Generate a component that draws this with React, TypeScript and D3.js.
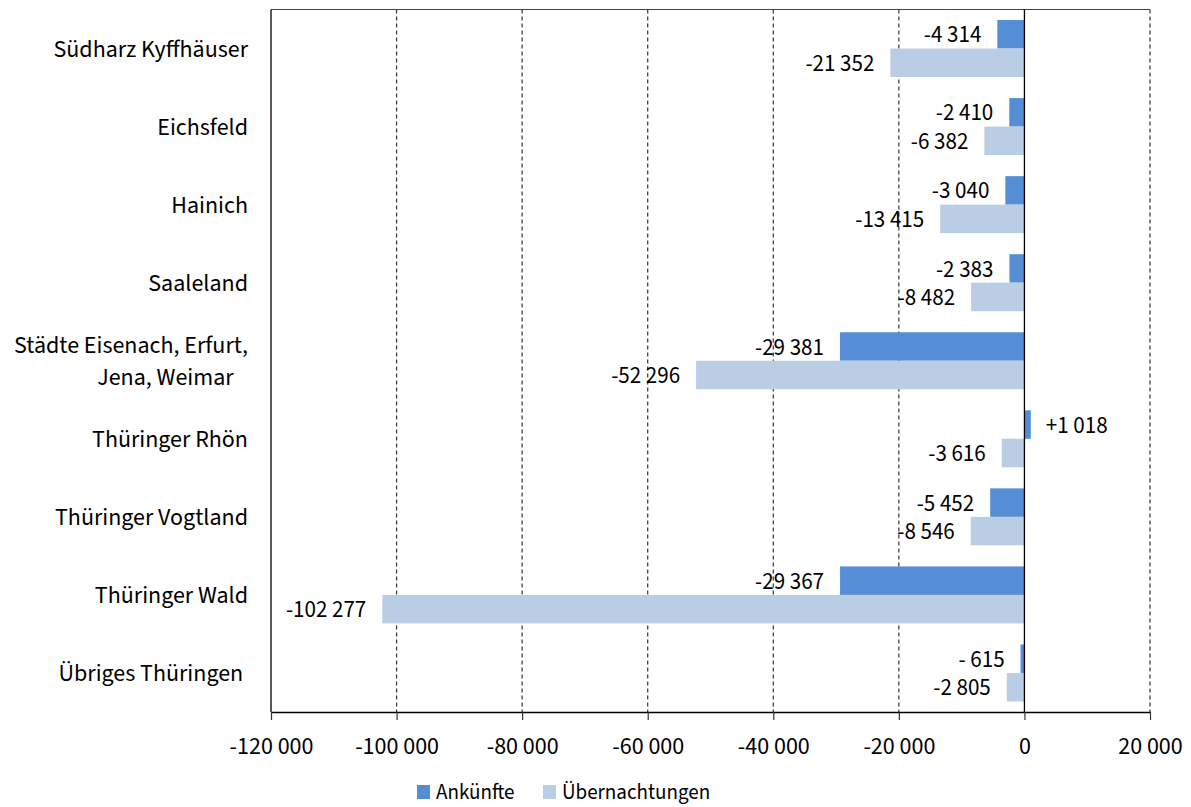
import React, { useEffect, useRef } from 'react';
import * as d3 from 'd3';

const regions = [
  'Südharz Kyffhäuser',
  'Eichsfeld',
  'Hainich',
  'Saaleland',
  'Städte Eisenach, Erfurt,|Jena, Weimar   ',
  'Thüringer Rhön',
  'Thüringer Vogtland',
  'Thüringer Wald',
  'Übriges Thüringen ',
];
const ankuenfte = [-4314, -2410, -3040, -2383, -29381, 1018, -5452, -29367, -615];
const uebernachtungen = [-21352, -6382, -13415, -8482, -52296, -3616, -8546, -102277, -2805];
const seriesNames = ['Ankünfte', 'Übernachtungen'];
const seriesColors = ['#558ed5', '#b9cde5'];
const xTicks = [-120000, -100000, -80000, -60000, -40000, -20000, 0, 20000];

const FONT = "'Source Sans Pro', 'Source Sans 3', Lato, sans-serif";

const groupFmt = (v: number) => d3.format(',')(Math.abs(v)).replace(/,/g, ' ');
const labelFmt = (v: number) =>
  (v < 0 ? '-' : '+') + (Math.abs(v) < 1000 ? ' ' : '') + groupFmt(v);
const tickFmt = (v: number) => (v < 0 ? '-' : '') + groupFmt(v);

const App: React.FC = () => {
  const svgRef = useRef<SVGSVGElement | null>(null);

  useEffect(() => {
    if (!svgRef.current) return;
    const svg = d3.select(svgRef.current);
    svg.selectAll('*').remove();

    const width = 1191;
    const height = 807;
    const margin = { top: 9.5, right: 41, bottom: 95, left: 271 };

    const x = d3.scaleLinear()
      .domain([-120000, 20000])
      .range([margin.left, width - margin.right]);

    const y = d3.scaleBand<number>()
      .domain(d3.range(regions.length))
      .range([margin.top, height - margin.bottom])
      .padding(0);

    const sub = d3.scaleBand<number>()
      .domain([0, 1])
      .range([0, y.bandwidth()])
      .paddingInner(0)
      .paddingOuter(0.37);

    const g = svg.append('g').style('font-family', FONT).style('font-size', '24px');

    // Gridlines (dashed)
    g.append('g')
      .selectAll('line')
      .data(xTicks.filter(t => t !== 0 && t !== -120000))
      .join('line')
      .attr('x1', d => x(d))
      .attr('x2', d => x(d))
      .attr('y1', margin.top)
      .attr('y2', height - margin.bottom)
      .attr('stroke', '#333')
      .attr('stroke-width', 1.2)
      .attr('stroke-dasharray', '4,3');

    // top border
    g.append('line')
      .attr('x1', x(-120000)).attr('x2', x(20000))
      .attr('y1', margin.top).attr('y2', margin.top)
      .attr('stroke', '#444').attr('stroke-width', 1.2);

    // Bars
    const seriesData = [ankuenfte, uebernachtungen];
    seriesData.forEach((vals, si) => {
      g.append('g')
        .selectAll('rect')
        .data(vals)
        .join('rect')
        .attr('x', d => x(Math.min(0, d)))
        .attr('width', d => Math.abs(x(d) - x(0)))
        .attr('y', (_, i) => (y(i) as number) + (sub(si) as number))
        .attr('height', sub.bandwidth())
        .attr('fill', seriesColors[si]);

      g.append('g')
        .style('font-size', '23px')
        .selectAll('text')
        .data(vals)
        .join('text')
        .attr('x', d => (d < 0 ? x(d) - 16 : x(d) + 15))
        .attr('y', (_, i) => (y(i) as number) + (sub(si) as number) + sub.bandwidth() / 2)
        .attr('dy', '0.35em')
        .attr('text-anchor', d => (d < 0 ? 'end' : 'start'))
        .attr('fill', '#000')
        .text(d => labelFmt(d));
    });

    // zero line
    g.append('line')
      .attr('x1', x(0)).attr('x2', x(0))
      .attr('y1', margin.top).attr('y2', height - margin.bottom)
      .attr('stroke', '#000').attr('stroke-width', 1.3);

    // X axis
    const xAxis = g.append('g')
      .attr('transform', `translate(0,${height - margin.bottom})`)
      .call(d3.axisBottom(x).tickValues(xTicks).tickFormat(d => tickFmt(+d)).tickSize(8).tickSizeOuter(0));
    xAxis.select('.domain').attr('stroke', '#000').attr('stroke-width', 1.5);
    xAxis.selectAll('.tick line').attr('stroke', '#333').attr('stroke-width', 1.2);
    xAxis.selectAll('.tick text')
      .attr('font-family', FONT)
      .attr('font-size', '24px')
      .attr('fill', '#000')
      .attr('dy', '0')
      .attr('y', 42);

    // Y axis (left border)
    g.append('line')
      .attr('x1', margin.left).attr('x2', margin.left)
      .attr('y1', margin.top).attr('y2', height - margin.bottom)
      .attr('stroke', '#222').attr('stroke-width', 1.5);

    // Category labels
    const lineGap = 32;
    const cats = g.append('g').style('font-size', '24px');
    regions.forEach((name, i) => {
      const lines = name.split('|');
      const cy = (y(i) as number) + y.bandwidth() / 2;
      const t = cats.append('text')
        .attr('x', margin.left - 23)
        .attr('y', cy - ((lines.length - 1) * lineGap) / 2)
        .attr('text-anchor', 'end')
        .attr('fill', '#000')
        .style('white-space', 'pre');
      lines.forEach((ln, li) => {
        t.append('tspan')
          .attr('x', margin.left - 23)
          .attr('dy', li === 0 ? '0.35em' : lineGap)
          .text(ln);
      });
    });

    // Legend
    const legend = g.append('g').attr('transform', 'translate(417,785)').style('font-size', '21px');
    const legendX = [0, 126];
    seriesNames.forEach((s, i) => {
      legend.append('rect')
        .attr('x', legendX[i]).attr('y', 0)
        .attr('width', 13).attr('height', 14)
        .attr('fill', seriesColors[i]);
      legend.append('text')
        .attr('x', legendX[i] + 19).attr('y', 14)
        .attr('fill', '#000')
        .text(s);
    });
  }, []);

  return (
    <svg
      ref={svgRef}
      width={1191}
      height={807}
      style={{ position: 'absolute', left: 0, top: 0, background: '#fff' }}
    />
  );
};

export default App;
